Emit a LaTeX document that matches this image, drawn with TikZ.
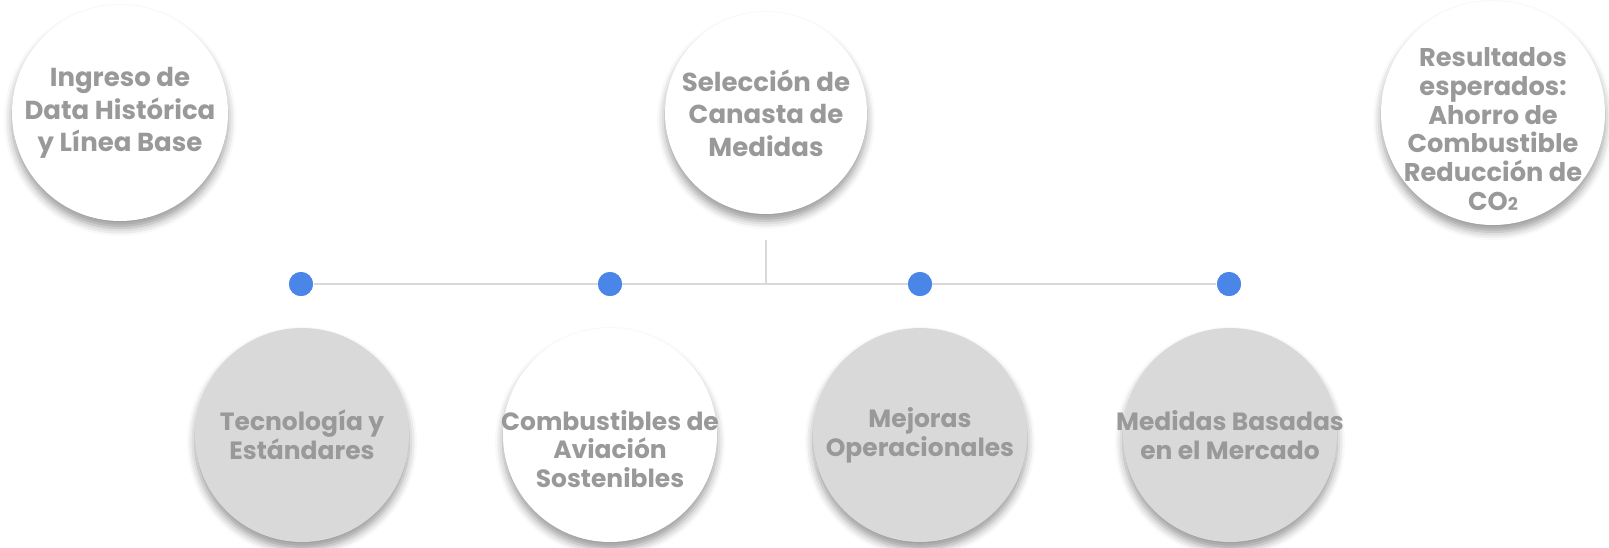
\documentclass[tikz,border=0pt]{standalone}
\usepackage{fontspec}
\setmainfont{Poppins}
\usetikzlibrary{shadows.blur}

\definecolor{txtgray}{HTML}{999999}
\definecolor{bubblegray}{HTML}{D9D9D9}
\definecolor{linegray}{HTML}{D9D9D9}
\definecolor{dotblue}{HTML}{4A86E8}

\tikzset{
  bubble/.style={circle,inner sep=0pt,fill=white,
    blur shadow={shadow xshift=0pt,shadow yshift=-0.7mm,
      shadow blur radius=0.8mm,shadow opacity=40}},
  greybubble/.style={bubble,fill=bubblegray},
  lbl/.style={align=center,text=txtgray,font=\fontsize{7.1}{8.2}\selectfont\bfseries},
  toplbl/.style={lbl,font=\fontsize{7.4}{9.3}\selectfont\bfseries},
  reslbl/.style={lbl,font=\fontsize{7.3}{8.2}\selectfont\bfseries},
  dot/.style={circle,fill=dotblue,inner sep=0pt,minimum size=2.4mm}
}

\begin{document}
\begin{tikzpicture}[x=0.1mm,y=-0.1mm]
\useasboundingbox (0,0) rectangle (1609,547);

% upper row
\node[bubble,minimum size=21.6mm] (ing) at (120,113) {};
\node[bubble,minimum size=20.2mm] (sel) at (766,113) {};
\node[bubble,minimum size=22.4mm] (res) at (1493,113) {};
\node[toplbl] (ing-t) at (ing) {Ingreso de\\Data Histórica\\y Línea Base};
\node[toplbl] (sel-t) at (sel) {Selección de\\Canasta de\\Medidas};
\node[reslbl] (res-t) at (1493,129) {Resultados\\esperados:\\Ahorro de\\Combustible\\Reducción de\\CO{\fontsize{5}{5}\selectfont 2}};

% connectors
\coordinate (top) at (766,240);
\coordinate (jn) at (766,284);
\node[dot] (d1) at (301,284) {};
\node[dot] (d2) at (610,284) {};
\node[dot] (d3) at (920,284) {};
\node[dot] (d4) at (1229,284) {};
\path[linegray,line width=0.2mm]
(top) edge[-] (jn)
(d1) edge[-] (d4);
\node[dot] at (d1) {};
\node[dot] at (d2) {};
\node[dot] at (d3) {};
\node[dot] at (d4) {};

% lower row
\node[greybubble,minimum size=21.4mm] (tec) at (302,435) {};
\node[bubble,minimum size=21.4mm] (com) at (610,435) {};
\node[greybubble,minimum size=21.4mm] (mej) at (920,435) {};
\node[greybubble,minimum size=21.4mm] (mer) at (1230,435) {};
\node[lbl] (tec-t) at (tec) {Tecnología y\\Estándares};
\node[lbl] (com-t) at (610,449) {Combustibles de\\Aviación\\Sostenibles};
\node[lbl] (mej-t) at (mej) {Mejoras\\Operacionales};
\node[lbl] (mer-t) at (mer) {Medidas Basadas\\en el Mercado};
\end{tikzpicture}
\end{document}
